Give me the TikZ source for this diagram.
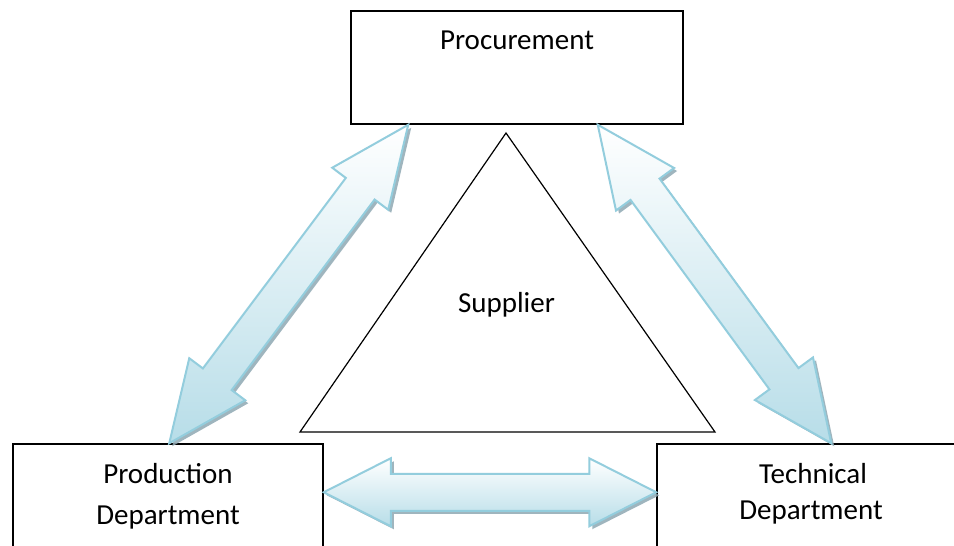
\documentclass[tikz,border=0pt]{standalone}
\usepackage{fontspec}
\setmainfont{Carlito}
\usetikzlibrary{calc}
\definecolor{arrline}{HTML}{93CDDD}
\definecolor{arrdark}{HTML}{B7DDE8}
\definecolor{arrshadow}{HTML}{8FA9B3}
\tikzset{
  boxnode/.style={draw=black, line width=1.5pt, rectangle, inner sep=0pt},
  lbl/.style={anchor=base, inner sep=0pt, font=\fontsize{29pt}{36pt}\selectfont},
  dblarr/.style={draw=arrline, line width=2pt, line join=miter, top color=white, bottom color=arrdark},
  arrshade/.style={fill=arrshadow, opacity=0.85}
}
\newcommand\dblarrow[6]{%
  \coordinate (#1hA) at ($(#2)!#4!(#3)$);
  \coordinate (#1hB) at ($(#3)!#4!(#2)$);
  \coordinate (#1p1) at ($(#1hA)!#5!90:(#3)$);
  \coordinate (#1p2) at ($(#1hA)!#6!90:(#3)$);
  \coordinate (#1p3) at ($(#1hB)!#6!-90:(#2)$);
  \coordinate (#1p4) at ($(#1hB)!#5!-90:(#2)$);
  \coordinate (#1p5) at ($(#1hB)!#5!90:(#2)$);
  \coordinate (#1p6) at ($(#1hB)!#6!90:(#2)$);
  \coordinate (#1p7) at ($(#1hA)!#6!-90:(#3)$);
  \coordinate (#1p8) at ($(#1hA)!#5!-90:(#3)$);
  \fill[arrshade, transform canvas={shift={(3pt,-3pt)}}] (#2)--(#1p1)--(#1p2)--(#1p3)--(#1p4)--(#3)--(#1p5)--(#1p6)--(#1p7)--(#1p8)--cycle;
  \draw[dblarr] (#2)--(#1p1)--(#1p2)--(#1p3)--(#1p4)--(#3)--(#1p5)--(#1p6)--(#1p7)--(#1p8)--cycle;
}
\begin{document}
\begin{tikzpicture}[x=1pt,y=-1pt]
\useasboundingbox (0,0) rectangle (954,546);
\clip (0,0) rectangle (954,546);
\fill[white] (0,0) rectangle (954,546);

% boxes
\node[boxnode, minimum width=332pt, minimum height=113pt] (proc) at (517,67.5) {};
\node[boxnode, minimum width=310pt, minimum height=156pt] (prod) at (168,522) {};
\node[boxnode, minimum width=343pt, minimum height=156pt] (tech) at (828.5,522) {};

% texts
\node[lbl] (proct) at (517,49) {Procurement};
\node[lbl] (prodt1) at (168,483) {Production};
\node[lbl] (prodt2) at (168,524) {Department};
\node[lbl] (techt1) at (813,483) {Technical};
\node[lbl] (techt2) at (811,519) {Department};

% supplier triangle
\coordinate (tA) at (506,133);
\coordinate (tB) at (300,432);
\coordinate (tC) at (715,432);
\draw[line width=1.2pt, line join=miter] (tA) -- (tB) -- (tC) -- cycle;
\node[lbl] (supt) at (506.5,312) {Supplier};

% arrow end points
\coordinate (lA) at ($(proc.south west)+(58,0)$);
\coordinate (lB) at ($(prod.north west)+(157,0)$);
\coordinate (rA) at ($(proc.south east)+(-86,0)$);
\coordinate (rB) at ($(tech.north west)+(175,0)$);
\coordinate (hA) at ($(prod.north east)+(0,49)$);
\coordinate (hB) at ($(tech.north west)+(0,49)$);

\dblarrow{L}{lA}{lB}{80pt}{35pt}{18pt}
\dblarrow{R}{rA}{rB}{80pt}{36pt}{18pt}
\dblarrow{H}{hA}{hB}{67pt}{34pt}{18.5pt}
\end{tikzpicture}
\end{document}
